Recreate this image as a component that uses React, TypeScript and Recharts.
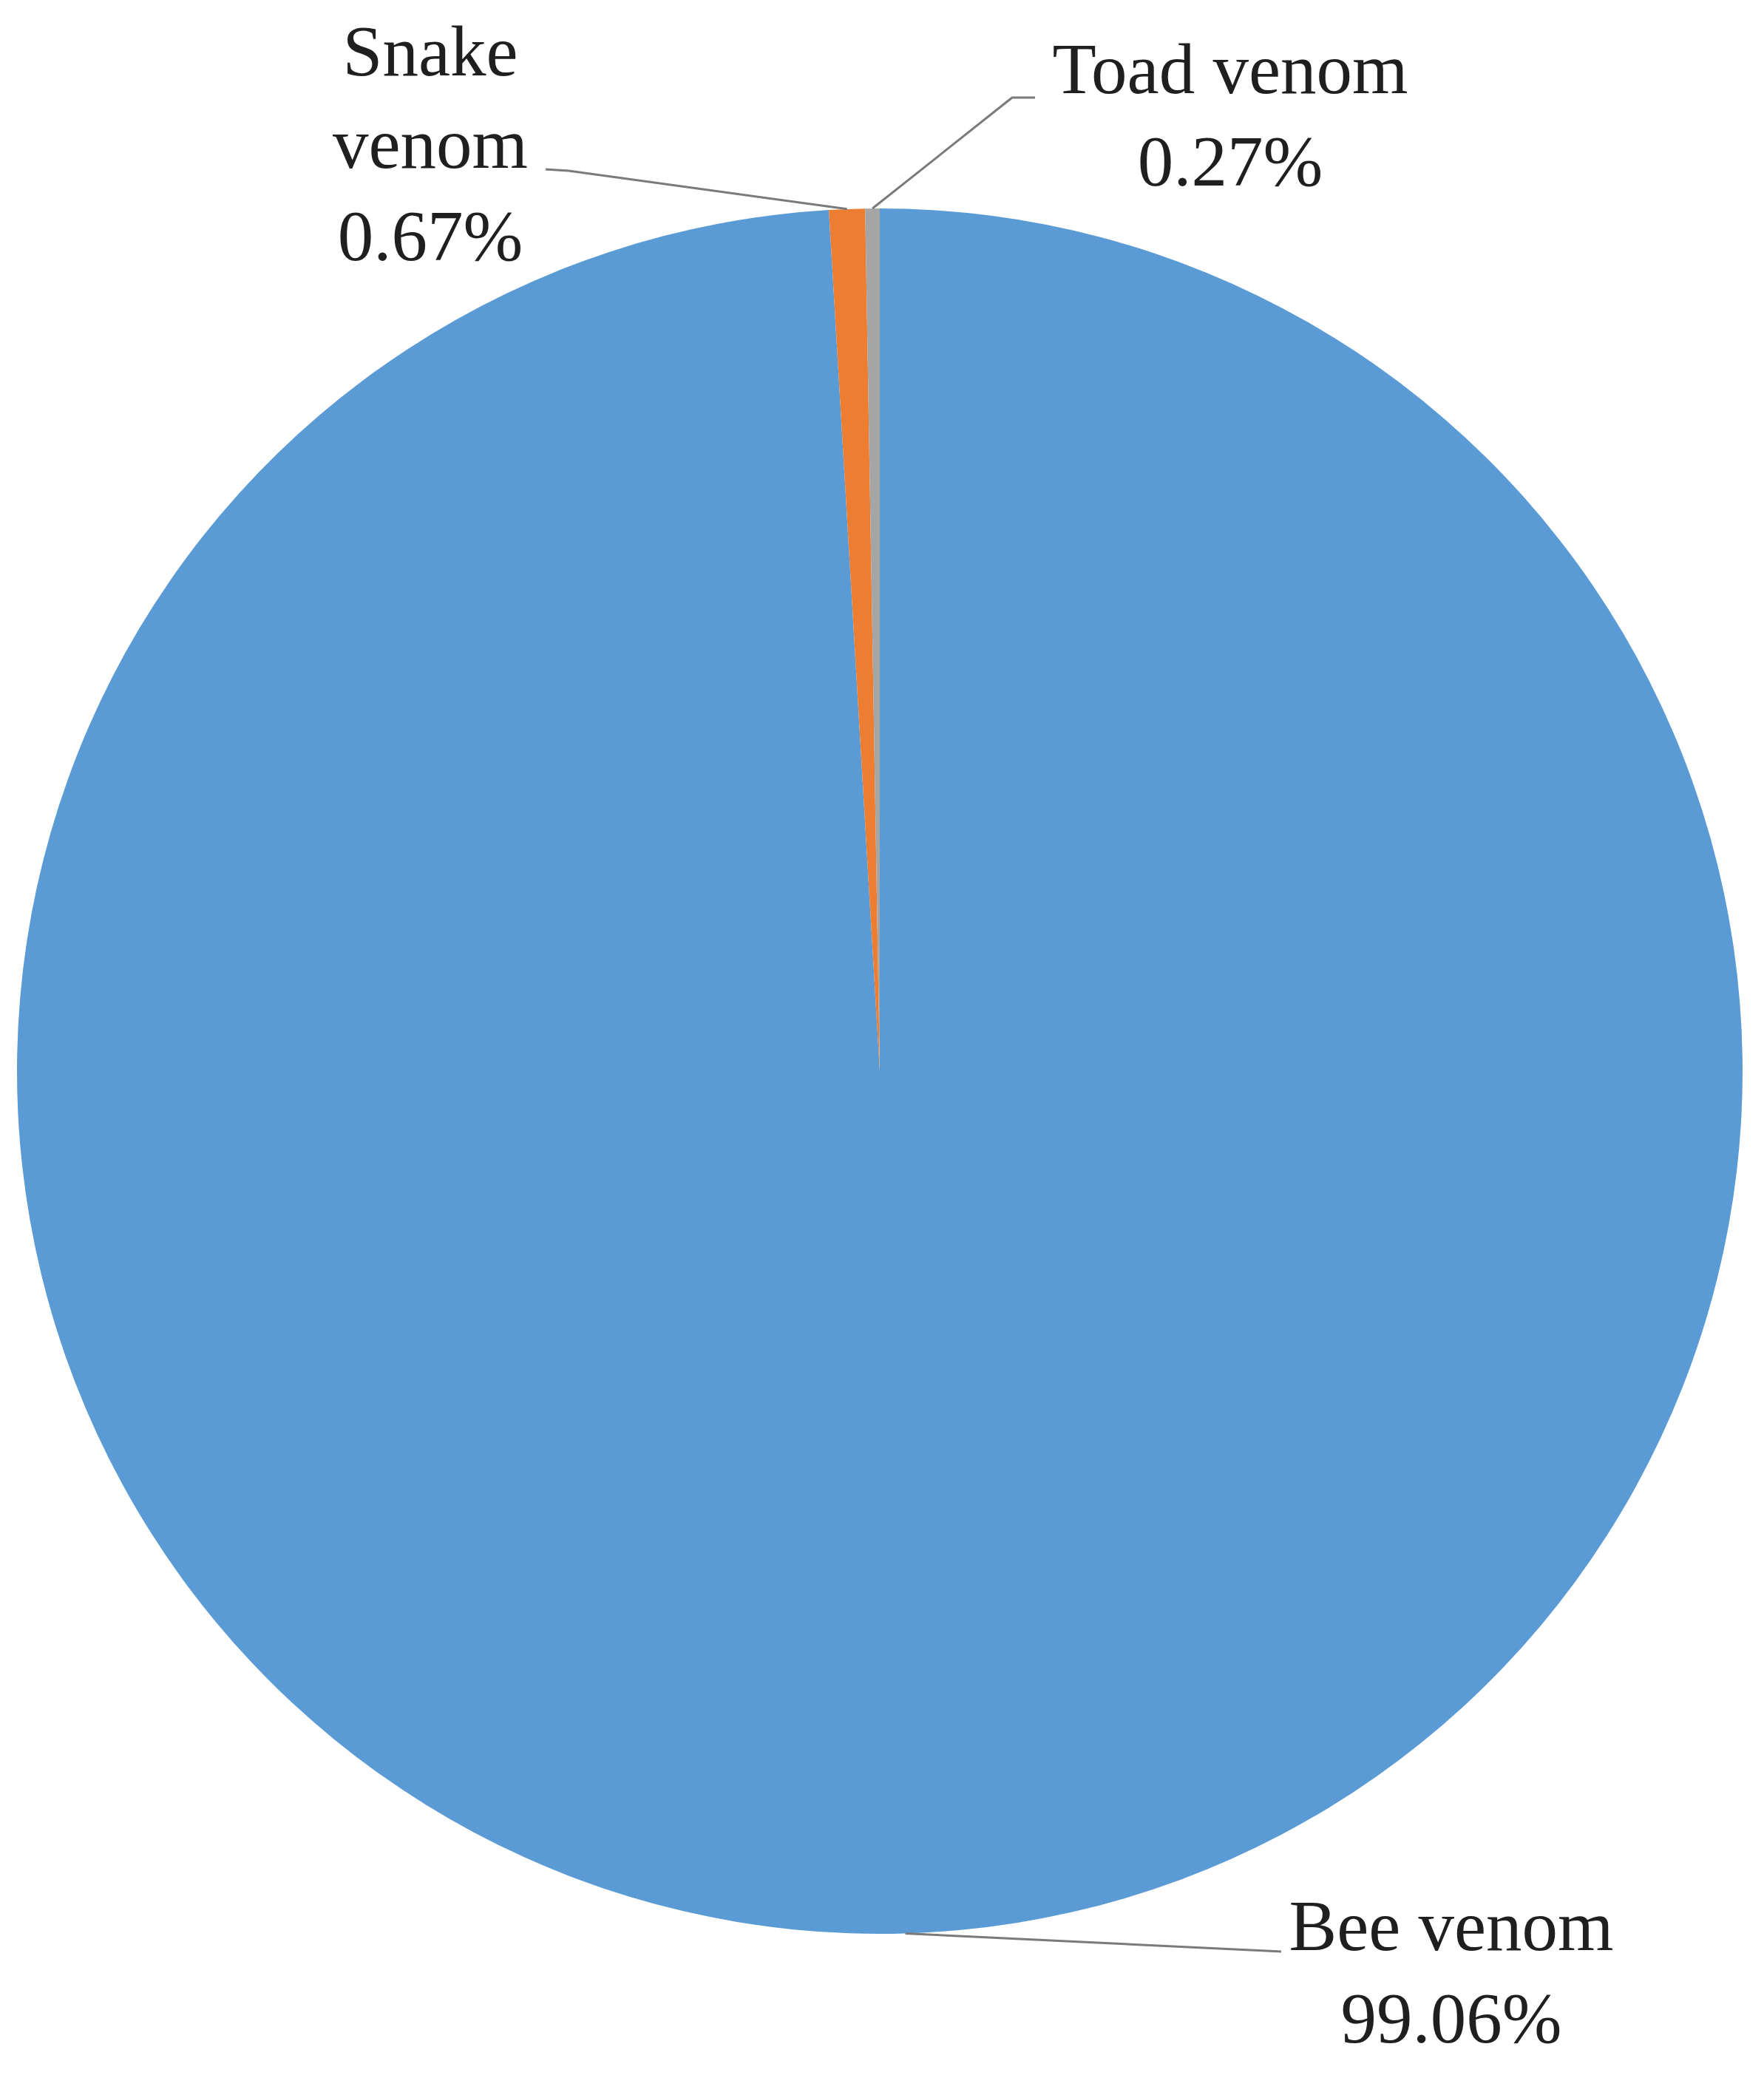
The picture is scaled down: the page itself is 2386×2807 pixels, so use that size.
import React from "react";
import { PieChart, Pie, Cell } from "recharts";

const NAMES = ["Bee venom", "Snake venom", "Toad venom"];
const VALUES = [99.06, 0.67, 0.27];
const COLORS = ["#5B9BD5", "#ED7D31", "#A5A5A5"];
// label name wrapping: how many words on the first line (0 = no wrap)
const WRAP = [0, 1, 0];

// label layout relative to the pie centre, in px
const LABEL_LAYOUT = [
  { elbow: [543, 1191], end: [543, 1191], text: [773, 1189] },
  { elbow: [-421, -1218], end: [-452, -1220], text: [-608, -1347] },
  { elbow: [179, -1317], end: [210, -1317], text: [474, -1323] },
];

const W = 2386;
const H = 2807;
const CX = 1190;
const CY = 1449;
const R = 1167;
const FONT = 97;
const LINE_H = 125;
const RAD = Math.PI / 180;

const data = NAMES.map((n, i) => ({ name: n, value: VALUES[i] }));

const renderLabel = (props: any) => {
  const { cx, cy, midAngle, outerRadius, index } = props;
  const L = LABEL_LAYOUT[index];
  const sx = cx + outerRadius * Math.cos(-midAngle * RAD);
  const sy = cy + outerRadius * Math.sin(-midAngle * RAD);
  const ex = cx + L.elbow[0];
  const ey = cy + L.elbow[1];
  const fx = cx + L.end[0];
  const fy = cy + L.end[1];
  const tx = cx + L.text[0];
  const ty = cy + L.text[1];
  const name = NAMES[index];
  const words = name.split(" ");
  const nameLines =
    WRAP[index] > 0
      ? [words.slice(0, WRAP[index]).join(" "), words.slice(WRAP[index]).join(" ")]
      : [name];
  const lines = [...nameLines, VALUES[index].toFixed(2) + "%"];
  return (
    <g key={"lbl" + index}>
      <polyline
        points={`${sx},${sy} ${ex},${ey} ${fx},${fy}`}
        fill="none"
        stroke="#7a7a7a"
        strokeWidth={3}
      />
      <text
        x={tx}
        y={ty}
        textAnchor="middle"
        fontFamily="'Liberation Serif', 'Times New Roman', serif"
        fontSize={FONT}
        fill="#1f1f1f"
      >
        {lines.map((t, i) => (
          <tspan key={i} x={tx} y={ty + i * LINE_H}>
            {t}
          </tspan>
        ))}
      </text>
    </g>
  );
};

export default function App() {
  return (
    <div style={{ position: "absolute", left: 0, top: 0, width: W, height: H, background: "#fff" }}>
      <PieChart width={W} height={H} margin={{ top: 0, right: 0, bottom: 0, left: 0 }}>
        <Pie
          data={data}
          dataKey="value"
          nameKey="name"
          cx={CX}
          cy={CY}
          outerRadius={R}
          startAngle={90}
          endAngle={-270}
          stroke="none"
          isAnimationActive={false}
          labelLine={false}
          label={renderLabel}
        >
          {data.map((d, i) => (
            <Cell key={d.name} fill={COLORS[i]} />
          ))}
        </Pie>
      </PieChart>
    </div>
  );
}
